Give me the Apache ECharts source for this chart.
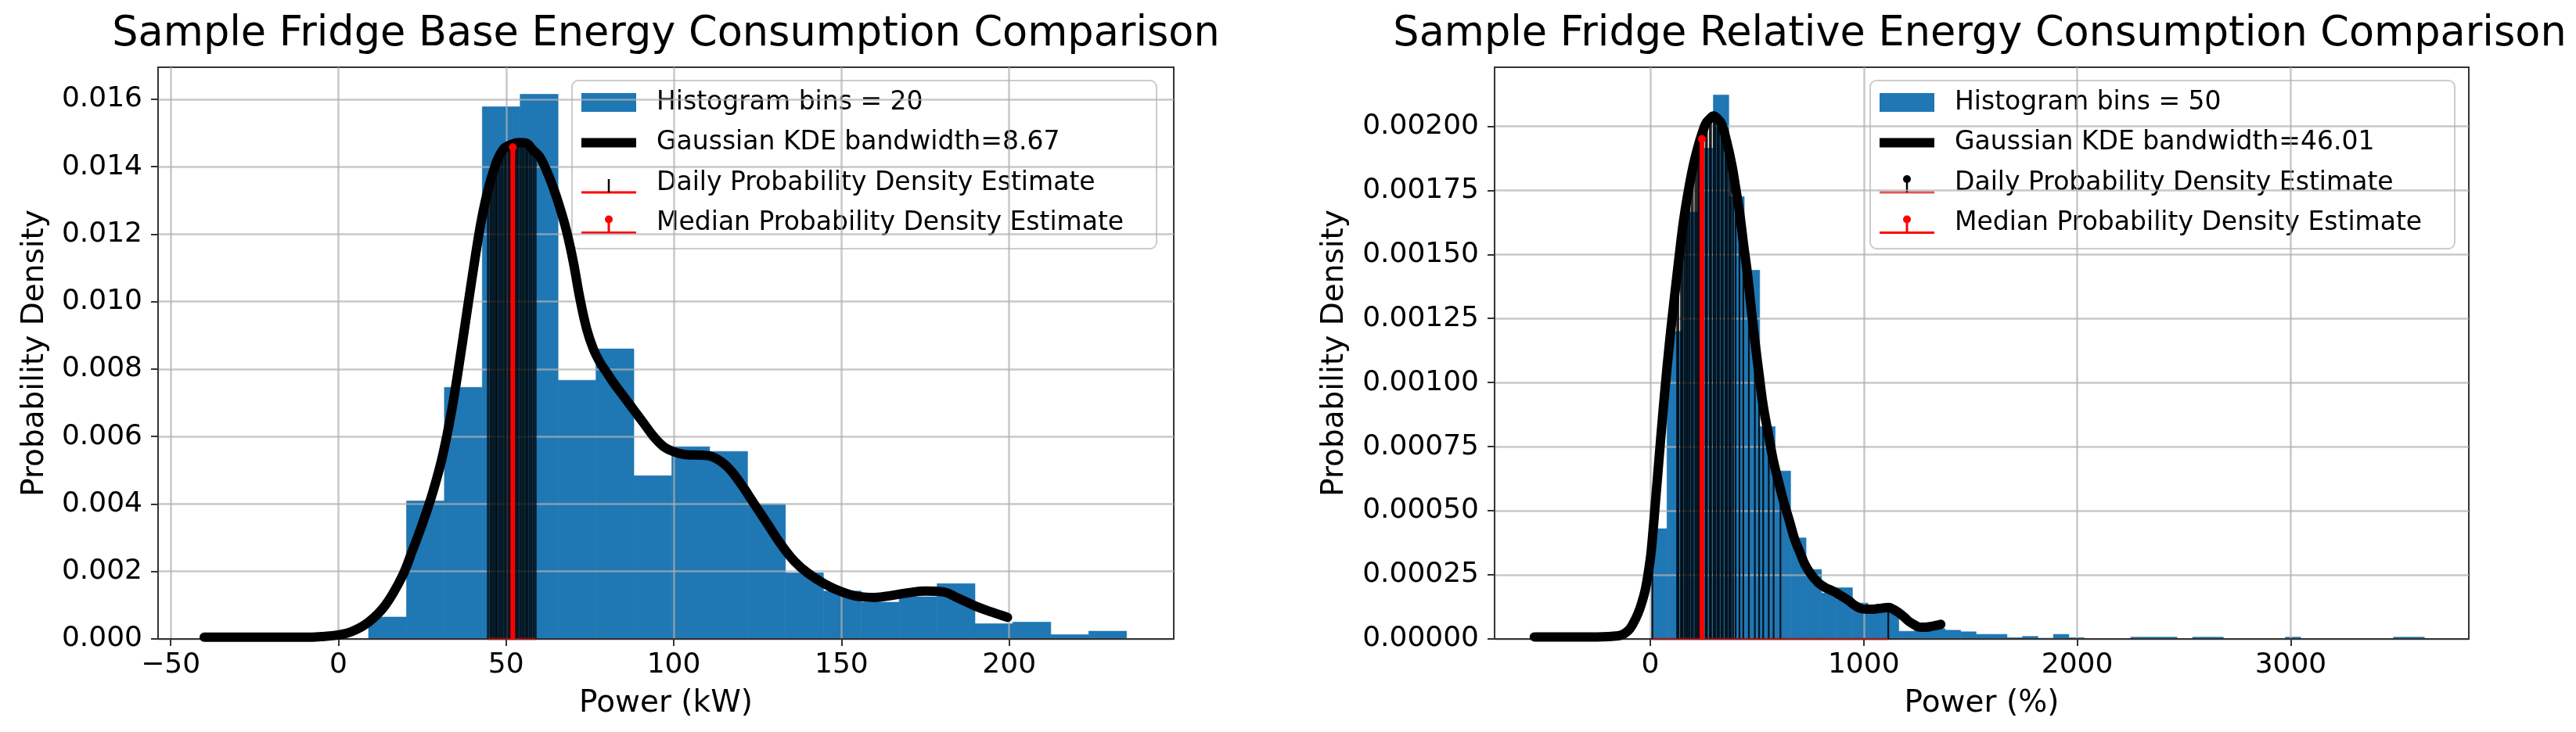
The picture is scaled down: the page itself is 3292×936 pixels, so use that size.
<!DOCTYPE html>
<html><head><meta charset="utf-8">
<script src="https://cdn.jsdelivr.net/npm/echarts@6/dist/echarts.min.js"></script>
<style>html,body{margin:0;padding:0;background:#fff}#c{width:3292px;height:936px}</style>
</head><body><div id="c"></div>
<script>
// ---------------- DATA ----------------
const titles = ['Sample Fridge Base Energy Consumption Comparison', 'Sample Fridge Relative Energy Consumption Comparison'];
const xNames = ['Power (kW)', 'Power (%)'];
const yName = 'Probability Density';
const baseLegend = ['Histogram bins = 20', 'Gaussian KDE bandwidth=8.67', 'Daily Probability Density Estimate', 'Median Probability Density Estimate'];
const relLegend = ['Histogram bins = 50', 'Gaussian KDE bandwidth=46.01', 'Daily Probability Density Estimate', 'Median Probability Density Estimate'];

const baseXTicks = [-50, 0, 50, 100, 150, 200];
const baseYTicks = [0, 0.002, 0.004, 0.006, 0.008, 0.010, 0.012, 0.014, 0.016];
const relXTicks = [0, 1000, 2000, 3000];
const relYTicks = [0, 0.00025, 0.0005, 0.00075, 0.001, 0.00125, 0.0015, 0.00175, 0.002];

const baseBinEdges = [9.0, 20.3, 31.6, 42.9, 54.2, 65.5, 76.8, 88.1, 99.4, 110.7, 122.0, 133.3, 144.6, 155.9, 167.2, 178.5, 189.8, 201.1, 212.4, 223.7, 235.0];
const baseBinHeights = [0.00065, 0.00409, 0.00746, 0.01578, 0.01615, 0.00767, 0.00860, 0.00484, 0.00570, 0.00556, 0.00400, 0.00196, 0.00142, 0.00109, 0.00125, 0.00164, 0.00045, 0.00050, 0.000126, 0.00023];

const baseKdeX = [-40, -30, -20, -10, -5, 0, 4, 9, 14, 19, 22, 25, 28, 31, 34, 37, 40, 43, 46, 49, 52, 54, 56, 58, 60, 62, 64, 66, 68, 70, 72, 74, 76, 78, 80, 82, 85, 88, 91, 94, 97, 100, 104, 108, 112, 116, 120, 124, 128, 132, 136, 140, 145, 150, 155, 160, 165, 170, 175, 180, 185, 190, 195, 199.5];
const baseKdeY = [0.00005, 0.00005, 0.00005, 0.00005, 0.00007, 0.00012, 0.00022, 0.0005, 0.001, 0.00185, 0.0026, 0.0034, 0.0043, 0.0054, 0.0069, 0.0088, 0.0108, 0.0126, 0.0138, 0.0145, 0.01468, 0.01472, 0.0147, 0.0145, 0.0143, 0.0139, 0.0134, 0.0128, 0.0121, 0.0112, 0.0101, 0.0092, 0.0086, 0.0082, 0.0079, 0.0076, 0.0072, 0.0068, 0.0064, 0.0060, 0.0057, 0.00555, 0.00546, 0.00545, 0.00538, 0.0051, 0.0046, 0.0040, 0.0034, 0.0028, 0.0023, 0.00195, 0.00163, 0.0014, 0.00126, 0.00123, 0.00129, 0.00137, 0.00142, 0.0014, 0.0012, 0.00097, 0.00079, 0.00064];

const baseDailyX = [44.6, 45.3, 45.8, 46.4, 46.9, 47.3, 47.9, 48.5, 49.0, 49.6, 50.1, 50.7, 51.2, 51.9, 52.6, 53.1, 53.6, 54.2, 54.8, 55.3, 55.9, 56.4, 57.0, 57.6, 58.2, 58.8];
const baseDailyY = [0.0135, 0.0137, 0.0139, 0.0140, 0.0141, 0.0142, 0.0143, 0.0144, 0.0145, 0.0145, 0.0146, 0.0146, 0.0147, 0.0147, 0.0147, 0.0147, 0.0147, 0.0147, 0.0147, 0.0147, 0.0146, 0.0146, 0.0146, 0.0145, 0.0145, 0.0144];
const baseMedian = [52.0, 0.01458];

const relBinEdges = [6.0, 78.4, 150.8, 223.2, 295.6, 368.0, 440.4, 512.8, 585.2, 657.6, 730.0, 802.4, 874.8, 947.2, 1019.6, 1092.0, 1164.4, 1236.8, 1309.2, 1381.6, 1454.0, 1526.4, 1598.8, 1671.2, 1743.6, 1816.0, 1888.4, 1960.8, 2033.2, 2105.6, 2178.0, 2250.4, 2322.8, 2395.2, 2467.6, 2540.0, 2612.4, 2684.8, 2757.2, 2829.6, 2902.0, 2974.4, 3046.8, 3119.2, 3191.6, 3264.0, 3336.4, 3408.8, 3481.2, 3553.6, 3626.0];
const relBinHeights = [0.00043, 0.00120, 0.001665, 0.001914, 0.002122, 0.001725, 0.001438, 0.000828, 0.000655, 0.000394, 0.000271, 0.000179, 0.000200, 0.000140, 0.000120, 0.000105, 0.000030, 0.000044, 0.000040, 0.000034, 0.000028, 0.000018, 0.000018, 0.000005, 0.000010, 0.000003, 0.000018, 0.000005, 0, 0, 0, 0.000007, 0.000007, 0.000007, 0, 0.000007, 0.000007, 0, 0, 0, 0, 0.000007, 0, 0, 0, 0, 0, 0, 0.000007, 0.000007];

const relKdeX = [-543, -400, -250, -150, -106, -80, -57, -40, -21, 0, 10, 25, 40, 55, 71, 86, 101, 120, 138, 156, 175, 200, 224, 242, 260, 280, 297, 315, 334, 358, 382, 400, 419, 437, 456, 474, 492, 510, 529, 553, 578, 602, 627, 652, 676, 700, 725, 755, 786, 820, 847, 871, 900, 932, 960, 994, 1025, 1055, 1085, 1116, 1140, 1165, 1190, 1214, 1240, 1263, 1290, 1311, 1335, 1361];
const relKdeY = [0.000008, 0.000008, 0.000008, 0.000012, 0.00003, 0.00006, 0.0001, 0.00014, 0.0002, 0.00031, 0.00039, 0.00054, 0.00069, 0.00084, 0.00099, 0.00112, 0.00124, 0.00138, 0.00151, 0.00163, 0.00173, 0.00184, 0.00192, 0.00197, 0.00201, 0.00203, 0.00204, 0.00203, 0.00201, 0.00194, 0.00185, 0.00176, 0.00166, 0.00154, 0.00142, 0.00128, 0.00115, 0.00103, 0.00091, 0.00080, 0.00069, 0.00061, 0.00053, 0.00046, 0.00039, 0.00034, 0.00029, 0.00025, 0.00022, 0.00020, 0.00019, 0.00018, 0.000165, 0.000148, 0.00013, 0.000117, 0.000116, 0.000117, 0.00012, 0.000123, 0.000115, 0.000102, 0.000085, 0.000067, 0.000054, 0.000046, 0.000046, 0.000048, 0.000052, 0.000057];

const relDailyX = [10, 126, 132, 144, 150, 160, 168, 175, 183, 193, 200, 211, 218, 225, 232, 248, 260, 266, 279, 285, 297, 305, 315, 322, 333, 340, 352, 360, 370, 378, 388, 400, 418, 436, 462, 490, 510, 529, 555, 578, 610, 1115];
const relDailyY = [0.00039, 0.00142, 0.00147, 0.00155, 0.00159, 0.00165, 0.00169, 0.00173, 0.00177, 0.00181, 0.00184, 0.00188, 0.00190, 0.00192, 0.00194, 0.00198, 0.00201, 0.00202, 0.00203, 0.00203, 0.00204, 0.00204, 0.00203, 0.00202, 0.00201, 0.00199, 0.00195, 0.00192, 0.00189, 0.00186, 0.00182, 0.00175, 0.00166, 0.00155, 0.00138, 0.00117, 0.00104, 0.00091, 0.00079, 0.00069, 0.00058, 0.00012];
const relMedian = [242, 0.00195];

// ---------------- CHART ----------------
const FONT = 'DejaVu Sans';
const BLUE = '#1f77b4';
const chart = echarts.init(document.getElementById('c'), null, {renderer: 'canvas'});

function inList(list, v) { return list.some(t => Math.abs(t - v) < 1e-9); }
function fmtX(v) { return v < 0 ? '\u2212' + Math.abs(v) : String(v); }

function histSeries(edges, heights, idx) {
  return {
    type: 'custom', xAxisIndex: idx, yAxisIndex: idx, z: 1, silent: true,
    data: heights.map((h, i) => [edges[i], edges[i + 1], h]),
    encode: {x: [0, 1], y: 2},
    renderItem(params, api) {
      const h = api.value(2);
      if (!h) return null;
      const p0 = api.coord([api.value(0), h]);
      const p1 = api.coord([api.value(1), 0]);
      return {type: 'rect', shape: {x: p0[0], y: p0[1], width: p1[0] - p0[0], height: p1[1] - p0[1]},
        style: {fill: BLUE, stroke: BLUE, lineWidth: 0.6}};
    }
  };
}
function stemSeries(xs, ys, idx, width, color, opacity, z) {
  return {
    type: 'custom', xAxisIndex: idx, yAxisIndex: idx, z: z, silent: true,
    data: xs.map((x, i) => [x, ys[i]]),
    encode: {x: 0, y: 1},
    renderItem(params, api) {
      const a = api.coord([api.value(0), 0]);
      const b = api.coord([api.value(0), api.value(1)]);
      return {type: 'line', shape: {x1: a[0], y1: a[1], x2: b[0], y2: b[1]},
        style: {stroke: color, lineWidth: width, opacity: opacity}};
    }
  };
}
function baselineSeries(xs, idx) {
  return {
    type: 'custom', xAxisIndex: idx, yAxisIndex: idx, z: 3, silent: true,
    data: [[Math.min(...xs), Math.max(...xs)]],
    encode: {x: [0, 1]},
    renderItem(params, api) {
      const a = api.coord([api.value(0), 0]);
      const b = api.coord([api.value(1), 0]);
      return {type: 'line', shape: {x1: a[0], y1: a[1], x2: b[0], y2: b[1]},
        style: {stroke: 'rgba(214,20,20,0.55)', lineWidth: 3}};
    }
  };
}
function medianSeries(m, idx) {
  return {
    type: 'custom', xAxisIndex: idx, yAxisIndex: idx, z: 5, silent: true,
    data: [m], encode: {x: 0, y: 1},
    renderItem(params, api) {
      const a = api.coord([api.value(0), 0]);
      const b = api.coord([api.value(0), api.value(1)]);
      return {type: 'group', children: [
        {type: 'line', shape: {x1: a[0], y1: a[1], x2: b[0], y2: b[1]}, style: {stroke: '#ff0000', lineWidth: 6}},
        {type: 'circle', shape: {cx: b[0], cy: b[1], r: 5}, style: {fill: '#ff0000'}}
      ]};
    }
  };
}
function kdeSeries(xs, ys, idx) {
  return {
    type: 'line', xAxisIndex: idx, yAxisIndex: idx, z: 4, silent: true,
    data: xs.map((x, i) => [x, ys[i]]),
    showSymbol: false, symbol: 'none', smooth: 0.4,
    lineStyle: {color: '#000', width: 12, join: 'round', cap: 'round'}
  };
}

function xAxisDef(idx, min, max, ticks, name, gap) {
  return {
    gridIndex: idx, type: 'value', min: min, max: max, z: 2,
    axisLine: {show: true, onZero: false, lineStyle: {color: '#333', width: 2}},
    axisTick: {show: true, length: 9, customValues: ticks, lineStyle: {color: '#333', width: 2}},
    axisLabel: {customValues: ticks, fontSize: 36, fontFamily: FONT, color: '#000', margin: 16,
      formatter: v => inList(ticks, v) ? fmtX(v) : ''},
    splitLine: {show: true, lineStyle: {color: 'rgba(176,176,176,0.7)', width: 2.5}},
    name: name, nameLocation: 'middle', nameGap: gap,
    nameTextStyle: {fontSize: 39, fontFamily: FONT, color: '#000'}
  };
}
function yAxisDef(idx, max, interval, ticks, digits, gap) {
  return {
    gridIndex: idx, type: 'value', min: 0, max: max, interval: interval, z: 2,
    axisLine: {show: true, onZero: false, lineStyle: {color: '#333', width: 2}},
    axisTick: {show: true, length: 9, customValues: ticks, lineStyle: {color: '#333', width: 2}},
    axisLabel: {customValues: ticks, fontSize: 36, fontFamily: FONT, color: '#000', margin: 20,
      formatter: v => inList(ticks, v) ? v.toFixed(digits) : ''},
    splitLine: {show: true, lineStyle: {color: 'rgba(176,176,176,0.7)', width: 2.5}},
    name: yName, nameLocation: 'middle', nameGap: gap,
    nameTextStyle: {fontSize: 39, fontFamily: FONT, color: '#000'}
  };
}

function legendGroup(x0, y0, labels, dailyDot) {
  const W = 747, H = 215, hx = x0 + 12, hw = 70, tx = x0 + 108;
  const rows = [y0 + 28, y0 + 79.5, y0 + 131, y0 + 182.5];
  const cx = hx + hw / 2;
  const ch = [
    {type: 'rect', shape: {x: x0, y: y0, width: W, height: H, r: 8},
      style: {fill: 'rgba(255,255,255,0.8)', stroke: '#cccccc', lineWidth: 2}},
    {type: 'rect', shape: {x: hx, y: rows[0] - 12, width: hw, height: 24}, style: {fill: BLUE}},
    {type: 'line', shape: {x1: hx, y1: rows[1], x2: hx + hw, y2: rows[1]}, style: {stroke: '#000', lineWidth: 12}},
    {type: 'line', shape: {x1: hx, y1: rows[2] + 12, x2: hx + hw, y2: rows[2] + 12},
      style: {stroke: dailyDot ? 'rgba(214,30,30,0.75)' : '#ff0000', lineWidth: 3}},
    {type: 'line', shape: {x1: cx, y1: rows[2] - 5, x2: cx, y2: rows[2] + 12}, style: {stroke: '#000', lineWidth: 2.5}},
    {type: 'line', shape: {x1: hx, y1: rows[3] + 12, x2: hx + hw, y2: rows[3] + 12}, style: {stroke: '#ff0000', lineWidth: 3}},
    {type: 'line', shape: {x1: cx, y1: rows[3] - 5, x2: cx, y2: rows[3] + 12}, style: {stroke: '#ff0000', lineWidth: 3}},
    {type: 'circle', shape: {cx: cx, cy: rows[3] - 5, r: 5}, style: {fill: '#ff0000'}}
  ];
  if (dailyDot) ch.push({type: 'circle', shape: {cx: cx, cy: rows[2] - 5, r: 5}, style: {fill: '#000'}});
  labels.forEach((t, i) => ch.push({type: 'text', x: tx, y: rows[i],
    style: {text: t, fontSize: 33, fontFamily: FONT, fill: '#000', align: 'left', verticalAlign: 'middle'}}));
  return {type: 'group', z: 10, silent: true, children: ch};
}
function titleText(text, cx) {
  return {type: 'text', x: cx, y: 44.5, z: 10, silent: true,
    style: {text: text, fontSize: 52.5, fontFamily: FONT, fill: '#000', align: 'center', verticalAlign: 'middle'}};
}

const option = {
  animation: false,
  backgroundColor: '#ffffff',
  grid: [
    {left: 202, top: 86, width: 1298, height: 731, show: true, borderColor: '#333', borderWidth: 2, backgroundColor: 'transparent'},
    {left: 1910, top: 86, width: 1245, height: 731, show: true, borderColor: '#333', borderWidth: 2, backgroundColor: 'transparent'}
  ],
  xAxis: [
    xAxisDef(0, -53.76, 249.06, baseXTicks, xNames[0], 63),
    xAxisDef(1, -729, 3834, relXTicks, xNames[1], 63)
  ],
  yAxis: [
    yAxisDef(0, 0.01695, 0.002, baseYTicks, 3, 138),
    yAxisDef(1, 0.00223, 0.00025, relYTicks, 5, 185)
  ],
  series: [
    histSeries(baseBinEdges, baseBinHeights, 0),
    stemSeries(baseDailyX, baseDailyY, 0, 2.5, '#000', 0.8, 3),
    baselineSeries(baseDailyX, 0),
    kdeSeries(baseKdeX, baseKdeY, 0),
    medianSeries(baseMedian, 0),
    histSeries(relBinEdges, relBinHeights, 1),
    stemSeries(relDailyX, relDailyY, 1, 2.2, '#000', 0.85, 3),
    baselineSeries(relDailyX, 1),
    kdeSeries(relKdeX, relKdeY, 1),
    medianSeries(relMedian, 1)
  ],
  graphic: [
    titleText(titles[0], 851),
    titleText(titles[1], 2530),
    legendGroup(731, 103, baseLegend, false),
    legendGroup(2390, 103, relLegend, true)
  ]
};
chart.setOption(option);
</script>
</body></html>
